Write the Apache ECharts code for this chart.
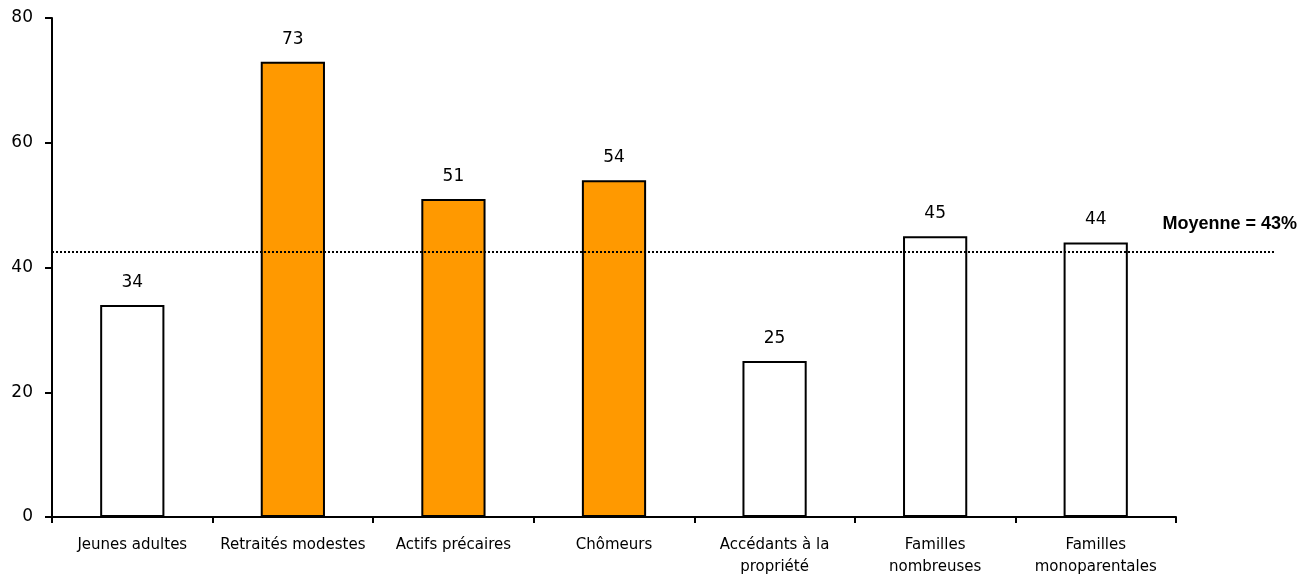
<!DOCTYPE html>
<html><head><meta charset="utf-8">
<script src="https://cdn.jsdelivr.net/npm/echarts@6/dist/echarts.min.js"></script>
<style>html,body{margin:0;padding:0;background:#fff}#c{width:1315px;height:576px}</style>
</head><body><div id="c"></div>
<script>
const categories = ['Jeunes adultes','Retraités modestes','Actifs précaires','Chômeurs','Accédants à la\npropriété','Familles\nnombreuses','Familles\nmonoparentales'];
const values = [34, 73, 51, 54, 25, 45, 44];
const highlighted = [false, true, true, true, false, false, false];
const yTicks = [0, 20, 40, 60, 80];
const meanValue = 42.5;
const meanLabel = 'Moyenne = 43%';

const FONT = 'DejaVu Sans';
const chart = echarts.init(document.getElementById('c'));
chart.setOption({
  animation: false,
  grid: [
    {left: 52, right: 139, top: 18, bottom: 59, containLabel: false, outerBoundsMode: 'none'},
    {left: 52, right: 40, top: 18, bottom: 59, containLabel: false, outerBoundsMode: 'none'}
  ],
  xAxis: [
    {type: 'category', data: categories, gridIndex: 0,
     axisLine: {lineStyle: {color: '#000', width: 2}},
     axisTick: {show: true, length: 6, lineStyle: {color: '#000', width: 2}},
     axisLabel: {color: '#000', fontFamily: FONT, fontSize: 15, margin: 17, lineHeight: 22, interval: 0}},
    {type: 'value', gridIndex: 1, min: 0, max: 1, show: false}
  ],
  yAxis: [
    {type: 'value', gridIndex: 0, min: 0, max: 80, interval: 20,
     splitLine: {show: false},
     axisLine: {show: true, lineStyle: {color: '#000', width: 2}},
     axisTick: {show: true, length: 7, lineStyle: {color: '#000', width: 2}},
     axisLabel: {color: '#000', fontFamily: FONT, fontSize: 17, margin: 19,
       formatter: v => yTicks.includes(v) ? String(v) : ''}},
    {type: 'value', gridIndex: 1, min: 0, max: 80, show: false}
  ],
  series: [
    {type: 'bar', xAxisIndex: 0, yAxisIndex: 0, barWidth: '40%',
     data: values.map((v, i) => ({value: v, itemStyle: {color: highlighted[i] ? '#FF9900' : '#FFFFFF', borderColor: '#000', borderWidth: 2}})),
     label: {show: true, position: 'top', distance: 14, color: '#000', fontFamily: FONT, fontSize: 17}},
    {type: 'line', xAxisIndex: 1, yAxisIndex: 1, symbol: 'none', silent: true,
     data: [],
     markLine: {symbol: 'none', silent: true,
       lineStyle: {color: '#000', width: 2, type: [2, 2]},
       label: {show: true, position: 'insideEndTop', formatter: meanLabel, distance: 16, offset: [38, -3],
         color: '#000', fontFamily: 'Liberation Sans', fontWeight: 'bold', fontSize: 18},
       data: [{yAxis: meanValue}]}}
  ]
});
</script></body></html>
